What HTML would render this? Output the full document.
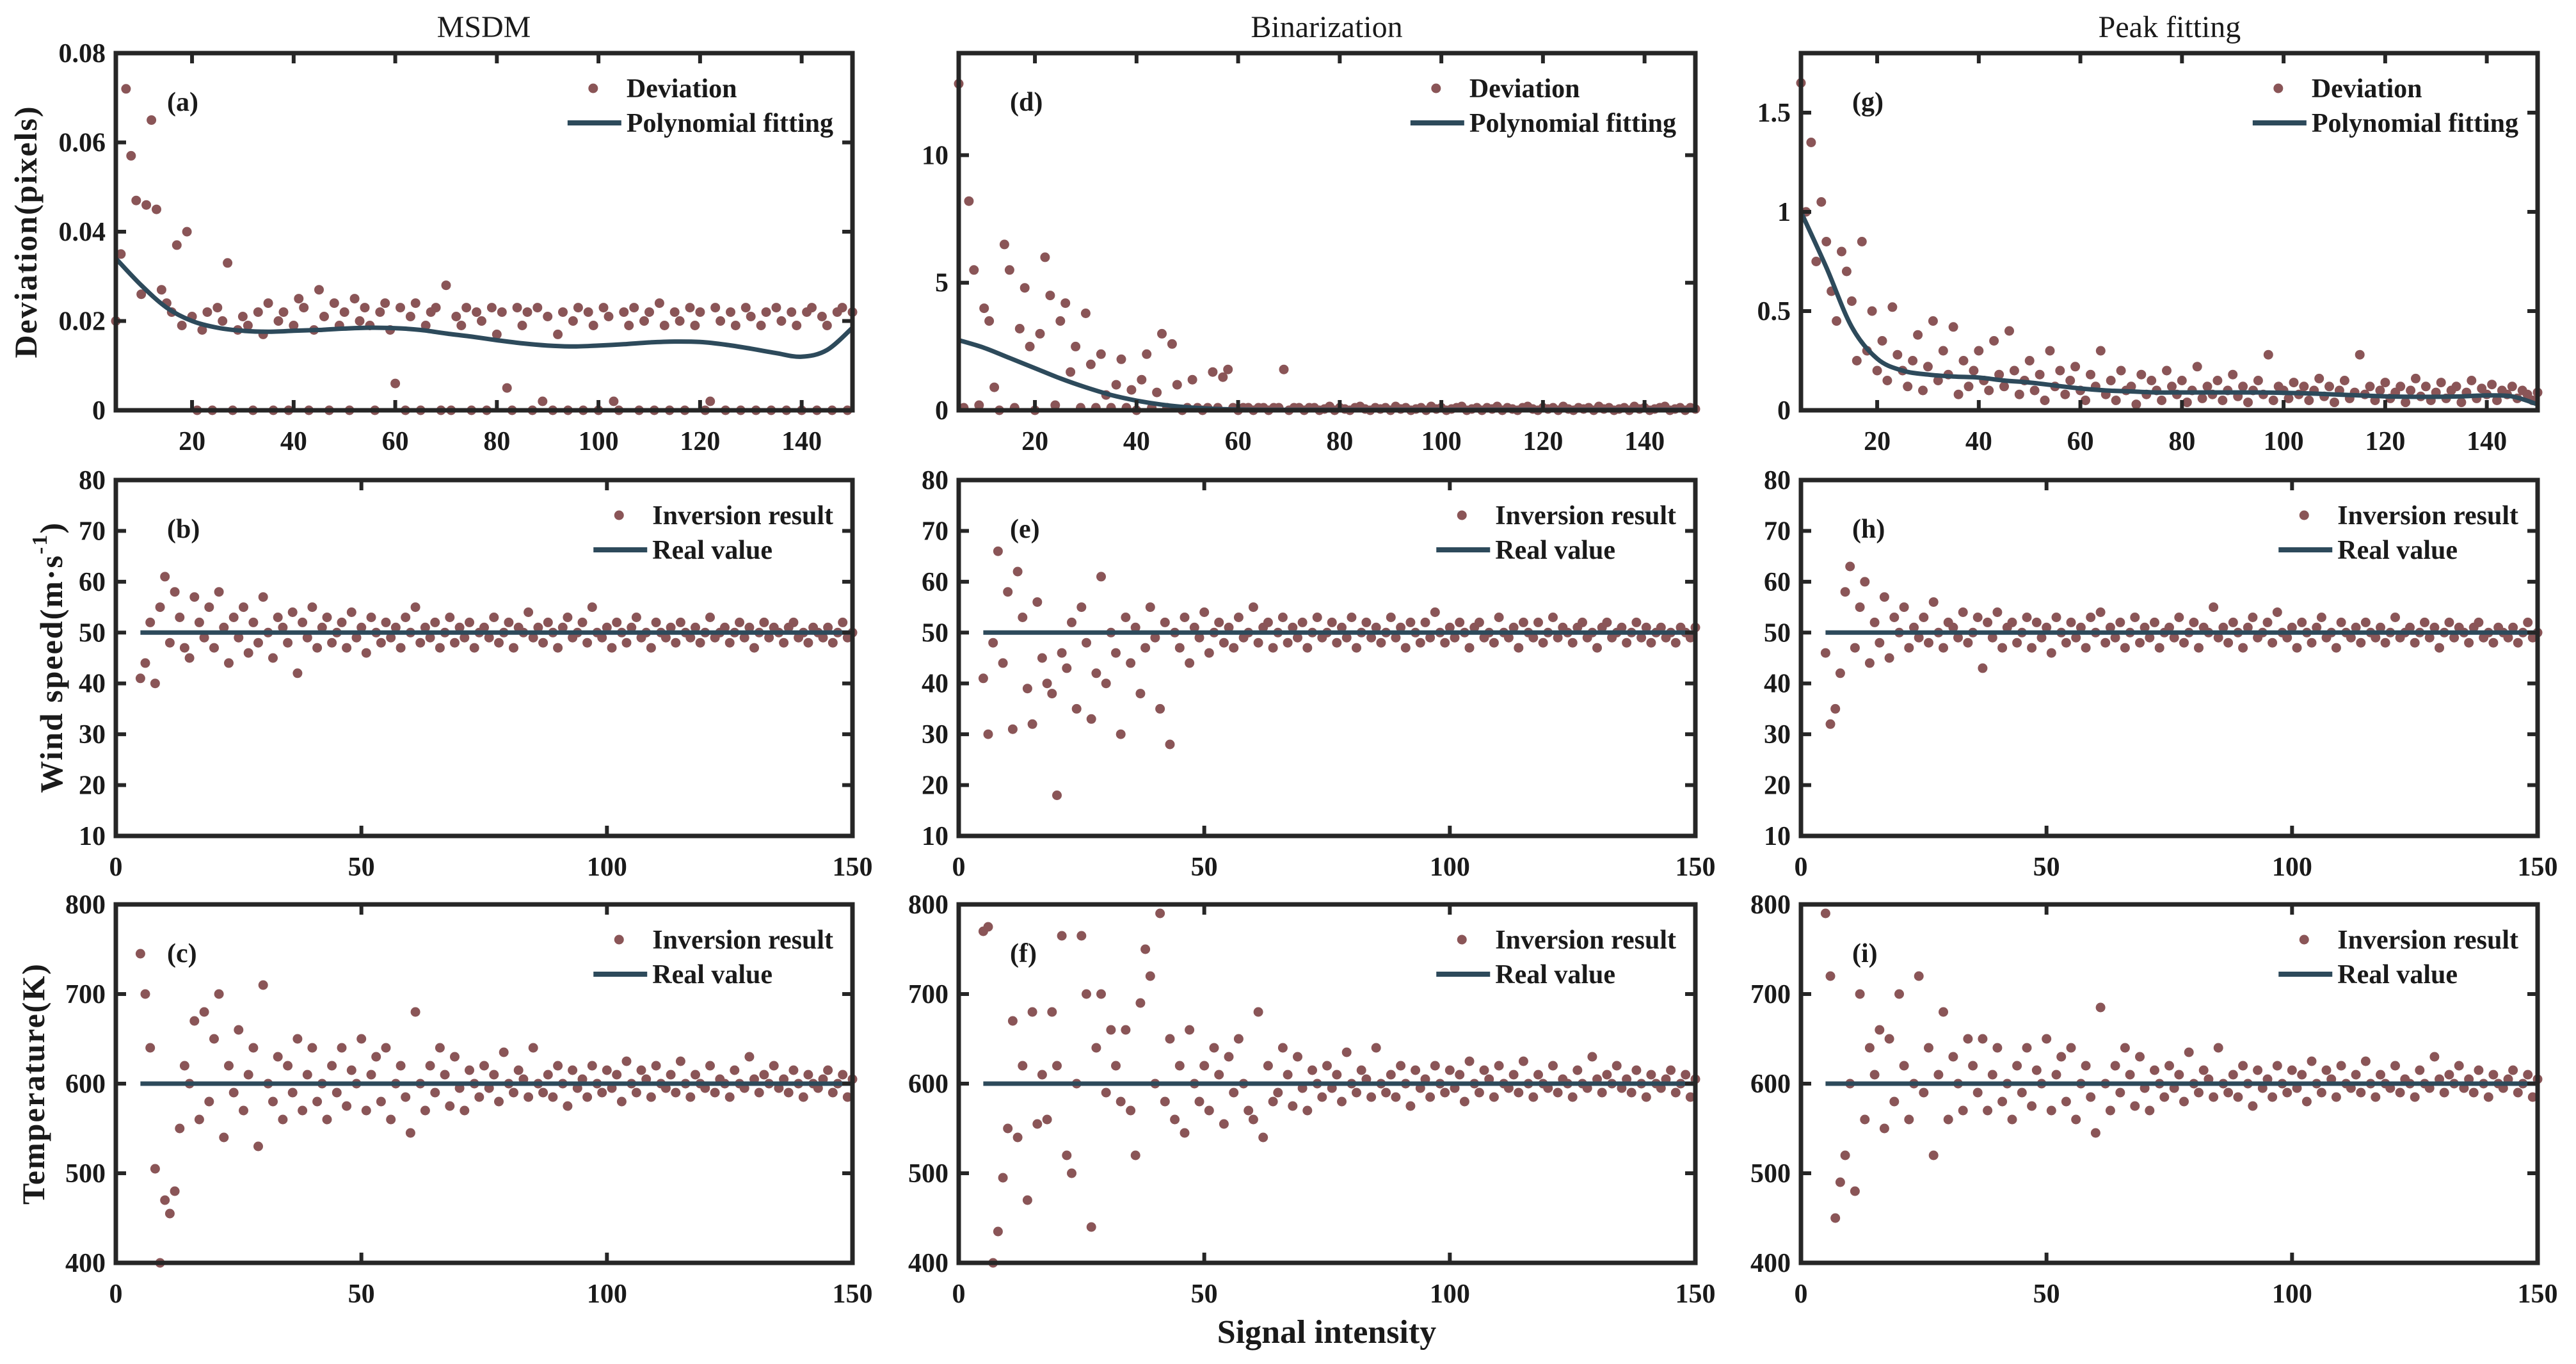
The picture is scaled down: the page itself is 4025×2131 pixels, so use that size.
<!DOCTYPE html>
<html><head><meta charset="utf-8"><style>
html,body{margin:0;padding:0;background:#fff}
svg{display:block}
text{font-family:"Liberation Serif","Times New Roman",serif;fill:#1a1a1a}
</style></head><body>
<svg id="fig" width="4025" height="2131" viewBox="0 0 4025 2131" xmlns="http://www.w3.org/2000/svg">
<rect width="4025" height="2131" fill="#fff"/>
<text x="756" y="58" font-size="48" text-anchor="middle">MSDM</text>
<text x="2073" y="58" font-size="48" text-anchor="middle">Binarization</text>
<text x="3390" y="58" font-size="48" text-anchor="middle">Peak fitting</text>
<text x="2073" y="2098" font-size="52" font-weight="bold" text-anchor="middle">Signal intensity</text>
<text transform="translate(40,362) rotate(-90)" font-size="50" font-weight="bold" text-anchor="middle" dominant-baseline="central" letter-spacing="2">Deviation(pixels)</text>
<text transform="translate(80,1027) rotate(-90)" font-size="50" font-weight="bold" text-anchor="middle" dominant-baseline="central" letter-spacing="2">Wind speed(m·s<tspan font-size="34" dy="-18">-1</tspan><tspan dy="18">)</tspan></text>
<text transform="translate(52,1693) rotate(-90)" font-size="50" font-weight="bold" text-anchor="middle" dominant-baseline="central" letter-spacing="2">Temperature(K)</text>
<g id="panels"></g>
</svg>
<script>
// ---------- data ----------
const xCats = [5,6,7,8,9,10,11,12,13,14,15,16,17,18,19,20,21,22,23,24,25,26,27,28,29,30,31,32,33,34,35,36,37,38,39,40,41,42,43,44,45,46,47,48,49,50,51,52,53,54,55,56,57,58,59,60,61,62,63,64,65,66,67,68,69,70,71,72,73,74,75,76,77,78,79,80,81,82,83,84,85,86,87,88,89,90,91,92,93,94,95,96,97,98,99,100,101,102,103,104,105,106,107,108,109,110,111,112,113,114,115,116,117,118,119,120,121,122,123,124,125,126,127,128,129,130,131,132,133,134,135,136,137,138,139,140,141,142,143,144,145,146,147,148,149,150];
const fitX = [5,10,15,20,25,30,35,40,45,50,55,60,65,70,75,80,85,90,95,100,105,110,115,120,125,130,135,140,145,150];

// (a) MSDM deviation (pixels)
const devA = [0.020,0.035,0.072,0.057,0.047,0.026,0.046,0.065,0.045,0.027,0.024,0.022,0.037,0.019,0.040,0.021,0,0.018,0.022,0,0.023,0.020,0.033,0,0.018,0.021,0.019,0,0.022,0.017,0.024,0,0.020,0.022,0,0.019,0.025,0.023,0,0.018,0.027,0.021,0,0.024,0.019,0.022,0,0.025,0.020,0.023,0.019,0,0.022,0.024,0.018,0.006,0.023,0,0.021,0.024,0,0.019,0.022,0.023,0,0.028,0,0.021,0.019,0.023,0,0.022,0.020,0,0.023,0.017,0.022,0.005,0,0.023,0.019,0.022,0,0.023,0.002,0.021,0,0.017,0.022,0,0.020,0.023,0,0.022,0.019,0,0.023,0.021,0.002,0,0.022,0.019,0.023,0,0.020,0.022,0,0.024,0.019,0,0.022,0.020,0,0.023,0.019,0.022,0,0.002,0.023,0.020,0,0.022,0.019,0,0.023,0.021,0,0.019,0.022,0,0.023,0.020,0,0.022,0.019,0,0.022,0.023,0,0.021,0.019,0,0.022,0.023,0,0.022];
const fitA = [0.034,0.028,0.023,0.020,0.0185,0.0178,0.0176,0.0178,0.018,0.0183,0.0185,0.0184,0.018,0.0172,0.0165,0.0157,0.015,0.0145,0.0143,0.0145,0.0148,0.0152,0.0154,0.0153,0.0147,0.0138,0.0128,0.012,0.0135,0.0185];
// (d) Binarization deviation
const devD = [12.8,0.1,8.2,5.5,0.2,4,3.5,0.9,0,6.5,5.5,0.1,3.2,4.8,2.5,0,3,6,4.5,0.2,3.5,4.2,1.5,2.5,0.1,3.8,1.8,0.1,2.2,0.6,0.1,1.0,2.0,0.1,0.8,0,1.2,2.2,0.1,0.7,3.0,0.1,2.6,1.0,0,0.1,1.2,0.1,0,0.1,1.5,0.1,1.3,1.6,0.1,0,0.1,0.1,0,0.1,0.1,0,0.1,0.1,1.6,0,0.1,0.1,0,0.1,0.1,0,0.05,0.15,0,0.1,0.05,0,0.1,0.15,0.05,0,0.1,0.05,0.1,0,0.15,0.05,0.1,0,0.05,0.1,0,0.15,0.05,0.1,0,0.05,0.1,0.15,0,0.05,0.1,0,0.1,0.05,0.15,0,0.1,0.05,0,0.1,0.15,0.05,0,0.1,0.05,0.1,0,0.15,0.05,0,0.1,0.05,0.1,0,0.15,0.05,0.1,0,0.05,0.1,0,0.15,0.05,0.1,0,0.05,0.1,0.15,0,0.05,0.1,0,0.1,0.05];
const fitD = [2.75,2.45,2.05,1.65,1.25,0.9,0.6,0.38,0.22,0.12,0.06,0.03,0.02,0.02,0.02,0.02,0.02,0.02,0.02,0.02,0.02,0.02,0.02,0.02,0.02,0.02,0.02,0.02,0.02,0.02];
// (g) Peak fitting deviation
const devG = [1.65,1.0,1.35,0.75,1.05,0.85,0.6,0.45,0.8,0.7,0.55,0.25,0.85,0.3,0.5,0.2,0.35,0.15,0.52,0.28,0.2,0.12,0.25,0.38,0.1,0.22,0.45,0.15,0.3,0.18,0.42,0.08,0.25,0.12,0.2,0.3,0.15,0.1,0.35,0.18,0.12,0.4,0.2,0.08,0.15,0.25,0.1,0.18,0.05,0.3,0.12,0.2,0.08,0.15,0.22,0.1,0.05,0.18,0.12,0.3,0.08,0.15,0.05,0.2,0.1,0.12,0.03,0.18,0.08,0.15,0.1,0.05,0.2,0.12,0.08,0.15,0.04,0.1,0.22,0.06,0.12,0.08,0.15,0.05,0.1,0.18,0.07,0.12,0.04,0.1,0.15,0.08,0.28,0.05,0.12,0.1,0.06,0.14,0.08,0.12,0.05,0.1,0.16,0.07,0.12,0.04,0.1,0.15,0.06,0.09,0.28,0.08,0.12,0.05,0.1,0.14,0.06,0.09,0.12,0.04,0.1,0.16,0.07,0.12,0.05,0.09,0.14,0.06,0.1,0.12,0.04,0.09,0.15,0.06,0.11,0.08,0.13,0.05,0.1,0.08,0.12,0.06,0.1,0.08,0.05,0.09];
const fitG = [1.0,0.72,0.42,0.26,0.2,0.18,0.17,0.165,0.15,0.14,0.125,0.11,0.1,0.095,0.09,0.09,0.09,0.09,0.09,0.088,0.085,0.08,0.075,0.07,0.068,0.068,0.07,0.075,0.07,0.03];

// wind speed inversion (m/s)
const windB = [41,44,52,40,55,61,48,58,53,47,45,57,52,49,55,47,58,51,44,53,49,55,46,52,48,57,50,45,53,51,48,54,42,52,49,55,47,51,53,48,50,52,47,54,49,51,46,53,50,48,52,49,51,47,53,50,55,48,51,49,52,47,50,53,48,51,49,52,47,50,51,49,53,48,50,52,47,51,50,54,49,51,48,52,50,47,51,53,49,50,52,48,55,50,49,51,47,52,50,48,51,53,49,50,47,52,50,49,51,48,52,50,49,51,48,50,53,49,50,51,48,50,52,49,51,47,50,52,49,51,50,48,51,52,49,50,48,51,50,49,51,48,50,52,49,50];
const windE = [41,30,48,66,44,58,31,62,53,39,32,56,45,40,38,18,46,43,52,35,55,48,33,42,61,40,50,46,30,53,44,51,38,47,55,49,35,52,28,50,47,53,44,51,49,54,46,50,52,48,51,47,53,49,50,55,48,51,52,47,50,53,48,51,49,52,47,50,53,49,50,52,48,51,49,53,47,50,52,49,51,48,50,53,49,51,47,52,50,48,52,49,54,50,48,51,49,52,50,47,51,52,49,50,48,53,50,49,51,47,52,50,49,52,48,50,53,49,51,50,48,51,52,49,50,47,51,52,49,50,51,48,50,52,49,51,48,50,51,49,50,48,51,50,49,51];
const windH = [46,32,35,42,58,63,47,55,60,44,52,48,57,45,53,50,55,47,51,49,53,48,56,50,47,52,51,49,54,48,50,53,43,52,49,54,47,51,52,48,50,53,47,52,49,51,46,53,50,48,52,49,51,47,53,50,54,48,51,49,52,47,50,53,48,51,49,52,47,50,51,49,53,48,50,52,47,51,50,55,49,51,48,52,50,47,51,53,49,50,52,48,54,50,49,51,47,52,50,48,51,53,49,50,47,52,50,49,51,48,52,50,49,51,48,50,53,49,50,51,48,50,52,49,51,47,50,52,49,51,50,48,51,52,49,50,48,51,50,49,51,48,50,52,49,50];
// temperature inversion (K)
const tempC = [745,700,640,505,400,470,455,480,550,620,600,670,560,680,580,650,700,540,620,590,660,570,610,640,530,710,600,580,630,560,620,590,650,570,610,640,580,600,560,620,590,640,575,615,600,650,570,610,630,580,640,560,600,620,585,545,680,600,570,620,590,640,610,575,630,595,570,615,600,585,620,595,610,580,635,600,590,615,605,585,640,600,590,610,585,620,600,575,615,595,605,585,620,600,590,615,595,610,580,625,600,590,615,605,585,620,600,595,610,590,625,600,585,610,600,595,620,590,605,600,585,615,600,595,630,605,590,610,600,620,595,605,590,615,600,585,610,600,595,605,615,590,600,610,585,605];
const tempF = [770,775,400,435,495,550,670,540,620,470,680,555,610,560,680,620,765,520,500,600,765,700,440,640,700,590,660,620,580,660,570,520,690,750,720,600,790,580,650,560,620,545,660,600,580,620,570,640,610,555,630,590,650,600,570,560,680,540,620,580,590,640,610,575,630,595,570,615,600,585,620,595,610,580,635,600,590,615,605,585,640,600,590,610,585,620,600,575,615,595,605,585,620,600,590,615,595,610,580,625,600,590,615,605,585,620,600,595,610,590,625,600,585,610,600,595,620,590,605,600,585,615,600,595,630,605,590,610,600,620,595,605,590,615,600,585,610,600,595,605,615,590,600,610,585,605];
const tempI = [790,720,450,490,520,600,480,700,560,640,610,660,550,650,580,700,620,560,600,720,590,640,520,610,680,560,630,600,570,650,620,590,650,570,610,640,580,600,560,620,590,640,575,615,600,650,570,610,630,580,640,560,600,620,585,545,685,600,570,620,590,640,610,575,630,595,570,615,600,585,620,595,610,580,635,600,590,615,605,585,640,600,590,610,585,620,600,575,615,595,605,585,620,600,590,615,595,610,580,625,600,590,615,605,585,620,600,595,610,590,625,600,585,610,600,595,620,590,605,600,585,615,600,595,630,605,590,610,600,620,595,605,590,615,600,585,610,600,595,605,615,590,600,610,585,605];
const realWind = [50,50];
const realTemp = [600,600];
const realX = [5,150];

const tickTop = ["20","40","60","80","100","120","140"];
const tickBottom = ["0","50","100","150"];
const yTicksA = ["0","0.02","0.04","0.06","0.08"];
const yTicksD = ["0","5","10"];
const yTicksG = ["0","0.5","1","1.5"];
const yTicksWind = ["10","20","30","40","50","60","70","80"];
const yTicksTemp = ["400","500","600","700","800"];

// ---------- layout ----------
const NS = "http://www.w3.org/2000/svg";
const colL = [181, 1498, 2814];
const W = 1151;
const rowT = [83, 750, 1413];
const H = [558, 556, 560];
const DOT = "#8a5557", LINE = "#2d4a5b", AX = "#262626";
const root = document.getElementById("panels");

function mk(tag, attrs, parent){
  const e = document.createElementNS(NS, tag);
  for (const k in attrs) e.setAttribute(k, attrs[k]);
  (parent||root).appendChild(e);
  return e;
}

function smoothPath(p){
  if (p.length < 3) return "M" + p.map(q => q[0].toFixed(1) + "," + q[1].toFixed(1)).join(" L");
  let d = "M" + p[0][0].toFixed(1) + "," + p[0][1].toFixed(1);
  for (let i = 0; i < p.length - 1; i++){
    const p0 = p[i-1] || p[i], p1 = p[i], p2 = p[i+1], p3 = p[i+2] || p[i+1];
    const c1x = p1[0] + (p2[0]-p0[0])/6, c1y = p1[1] + (p2[1]-p0[1])/6;
    const c2x = p2[0] - (p3[0]-p1[0])/6, c2y = p2[1] - (p3[1]-p1[1])/6;
    d += " C" + c1x.toFixed(1) + "," + c1y.toFixed(1) + " " + c2x.toFixed(1) + "," + c2y.toFixed(1) + " " + p2[0].toFixed(1) + "," + p2[1].toFixed(1);
  }
  return d;
}

function panel(o){
  const L = colL[o.col], T = rowT[o.row], h = H[o.row];
  const g = mk("g", {});
  
  
  const sx = v => L + (v - o.xmin) / (o.xmax - o.xmin) * W;
  const sy = v => T + h - (v - o.ymin) / (o.ymax - o.ymin) * h;
  const dg = mk("g", {fill: DOT}, g);
  
  
  o.ys.forEach((v, i) => {
    const c = mk("circle", {cx: sx(xCats[i]).toFixed(1), cy: sy(v).toFixed(1), r: 7.5}, dg);
    
    
  });
  const pts = o.lx.map((x, i) => [sx(x), sy(o.ly[i])]);
  const pl = mk("path", {d: smoothPath(pts), fill: "none", stroke: LINE, "stroke-width": 7, "stroke-linejoin": "round"}, g);
  
  
  const box = mk("rect", {x: L, y: T, width: W, height: h, fill: "none", stroke: AX, "stroke-width": 7}, g);
  
  
  o.xt.forEach(lbl => {
    const v = parseFloat(lbl), X = sx(v);
    if (v > o.xmin && v < o.xmax){
      mk("line", {x1: X, x2: X, y1: T + h, y2: T + h - 16, stroke: AX, "stroke-width": 6}, g);
      mk("line", {x1: X, x2: X, y1: T, y2: T + 16, stroke: AX, "stroke-width": 6}, g);
    }
    const t = mk("text", {x: X, y: T + h + 62, "font-size": 42, "font-weight": "bold", "text-anchor": "middle"}, g);
    t.textContent = lbl;
    
    
  });
  o.yt.forEach(lbl => {
    const v = parseFloat(lbl), Y = sy(v);
    if (v > o.ymin && v < o.ymax){
      mk("line", {x1: L, x2: L + 16, y1: Y, y2: Y, stroke: AX, "stroke-width": 6}, g);
      mk("line", {x1: L + W, x2: L + W - 16, y1: Y, y2: Y, stroke: AX, "stroke-width": 6}, g);
    }
    const t = mk("text", {x: L - 16, y: Y + 14, "font-size": 42, "font-weight": "bold", "text-anchor": "end"}, g);
    t.textContent = lbl;
    
    
  });
  const pl2 = mk("text", {x: L + 80, y: T + 90, "font-size": 42, "font-weight": "bold"}, g);
  pl2.textContent = "(" + o.id + ")";
  
  
  const lg = mk("g", {}, g);
  
  
  const t1 = mk("text", {x: 0, y: T + 69, "font-size": 42, "font-weight": "bold"}, lg);
  t1.textContent = o.leg1;
  
  
  const t2 = mk("text", {x: 0, y: T + 123, "font-size": 42, "font-weight": "bold"}, lg);
  t2.textContent = o.leg2;
  
  
  const wmax = Math.max(t1.getComputedTextLength(), t2.getComputedTextLength());
  const tx = L + W - 30 - wmax;
  t1.setAttribute("x", tx); t2.setAttribute("x", tx);
  const m = mk("circle", {cx: tx - 52, cy: T + 55, r: 7.5, fill: DOT}, lg);
  
  
  const ml = mk("line", {x1: tx - 92, x2: tx - 8, y1: T + 109, y2: T + 109, stroke: LINE, "stroke-width": 8}, lg);
  
  
}

const DL = "Deviation", PF = "Polynomial fitting", IR = "Inversion result", RV = "Real value";
panel({id:"a", col:0, row:0, xmin:5, xmax:150, ymin:0, ymax:0.08, ys:devA, lx:fitX, ly:fitA, xt:tickTop, yt:yTicksA, leg1:DL, leg2:PF, lineName:"polynomial-fit-line"});
panel({id:"d", col:1, row:0, xmin:5, xmax:150, ymin:0, ymax:14, ys:devD, lx:fitX, ly:fitD, xt:tickTop, yt:yTicksD, leg1:DL, leg2:PF, lineName:"polynomial-fit-line"});
panel({id:"g", col:2, row:0, xmin:5, xmax:150, ymin:0, ymax:1.8, ys:devG, lx:fitX, ly:fitG, xt:tickTop, yt:yTicksG, leg1:DL, leg2:PF, lineName:"polynomial-fit-line"});
panel({id:"b", col:0, row:1, xmin:0, xmax:150, ymin:10, ymax:80, ys:windB, lx:realX, ly:realWind, xt:tickBottom, yt:yTicksWind, leg1:IR, leg2:RV, lineName:"real-value-line"});
panel({id:"e", col:1, row:1, xmin:0, xmax:150, ymin:10, ymax:80, ys:windE, lx:realX, ly:realWind, xt:tickBottom, yt:yTicksWind, leg1:IR, leg2:RV, lineName:"real-value-line"});
panel({id:"h", col:2, row:1, xmin:0, xmax:150, ymin:10, ymax:80, ys:windH, lx:realX, ly:realWind, xt:tickBottom, yt:yTicksWind, leg1:IR, leg2:RV, lineName:"real-value-line"});
panel({id:"c", col:0, row:2, xmin:0, xmax:150, ymin:400, ymax:800, ys:tempC, lx:realX, ly:realTemp, xt:tickBottom, yt:yTicksTemp, leg1:IR, leg2:RV, lineName:"real-value-line"});
panel({id:"f", col:1, row:2, xmin:0, xmax:150, ymin:400, ymax:800, ys:tempF, lx:realX, ly:realTemp, xt:tickBottom, yt:yTicksTemp, leg1:IR, leg2:RV, lineName:"real-value-line"});
panel({id:"i", col:2, row:2, xmin:0, xmax:150, ymin:400, ymax:800, ys:tempI, lx:realX, ly:realTemp, xt:tickBottom, yt:yTicksTemp, leg1:IR, leg2:RV, lineName:"real-value-line"});
</script>
</body></html>
